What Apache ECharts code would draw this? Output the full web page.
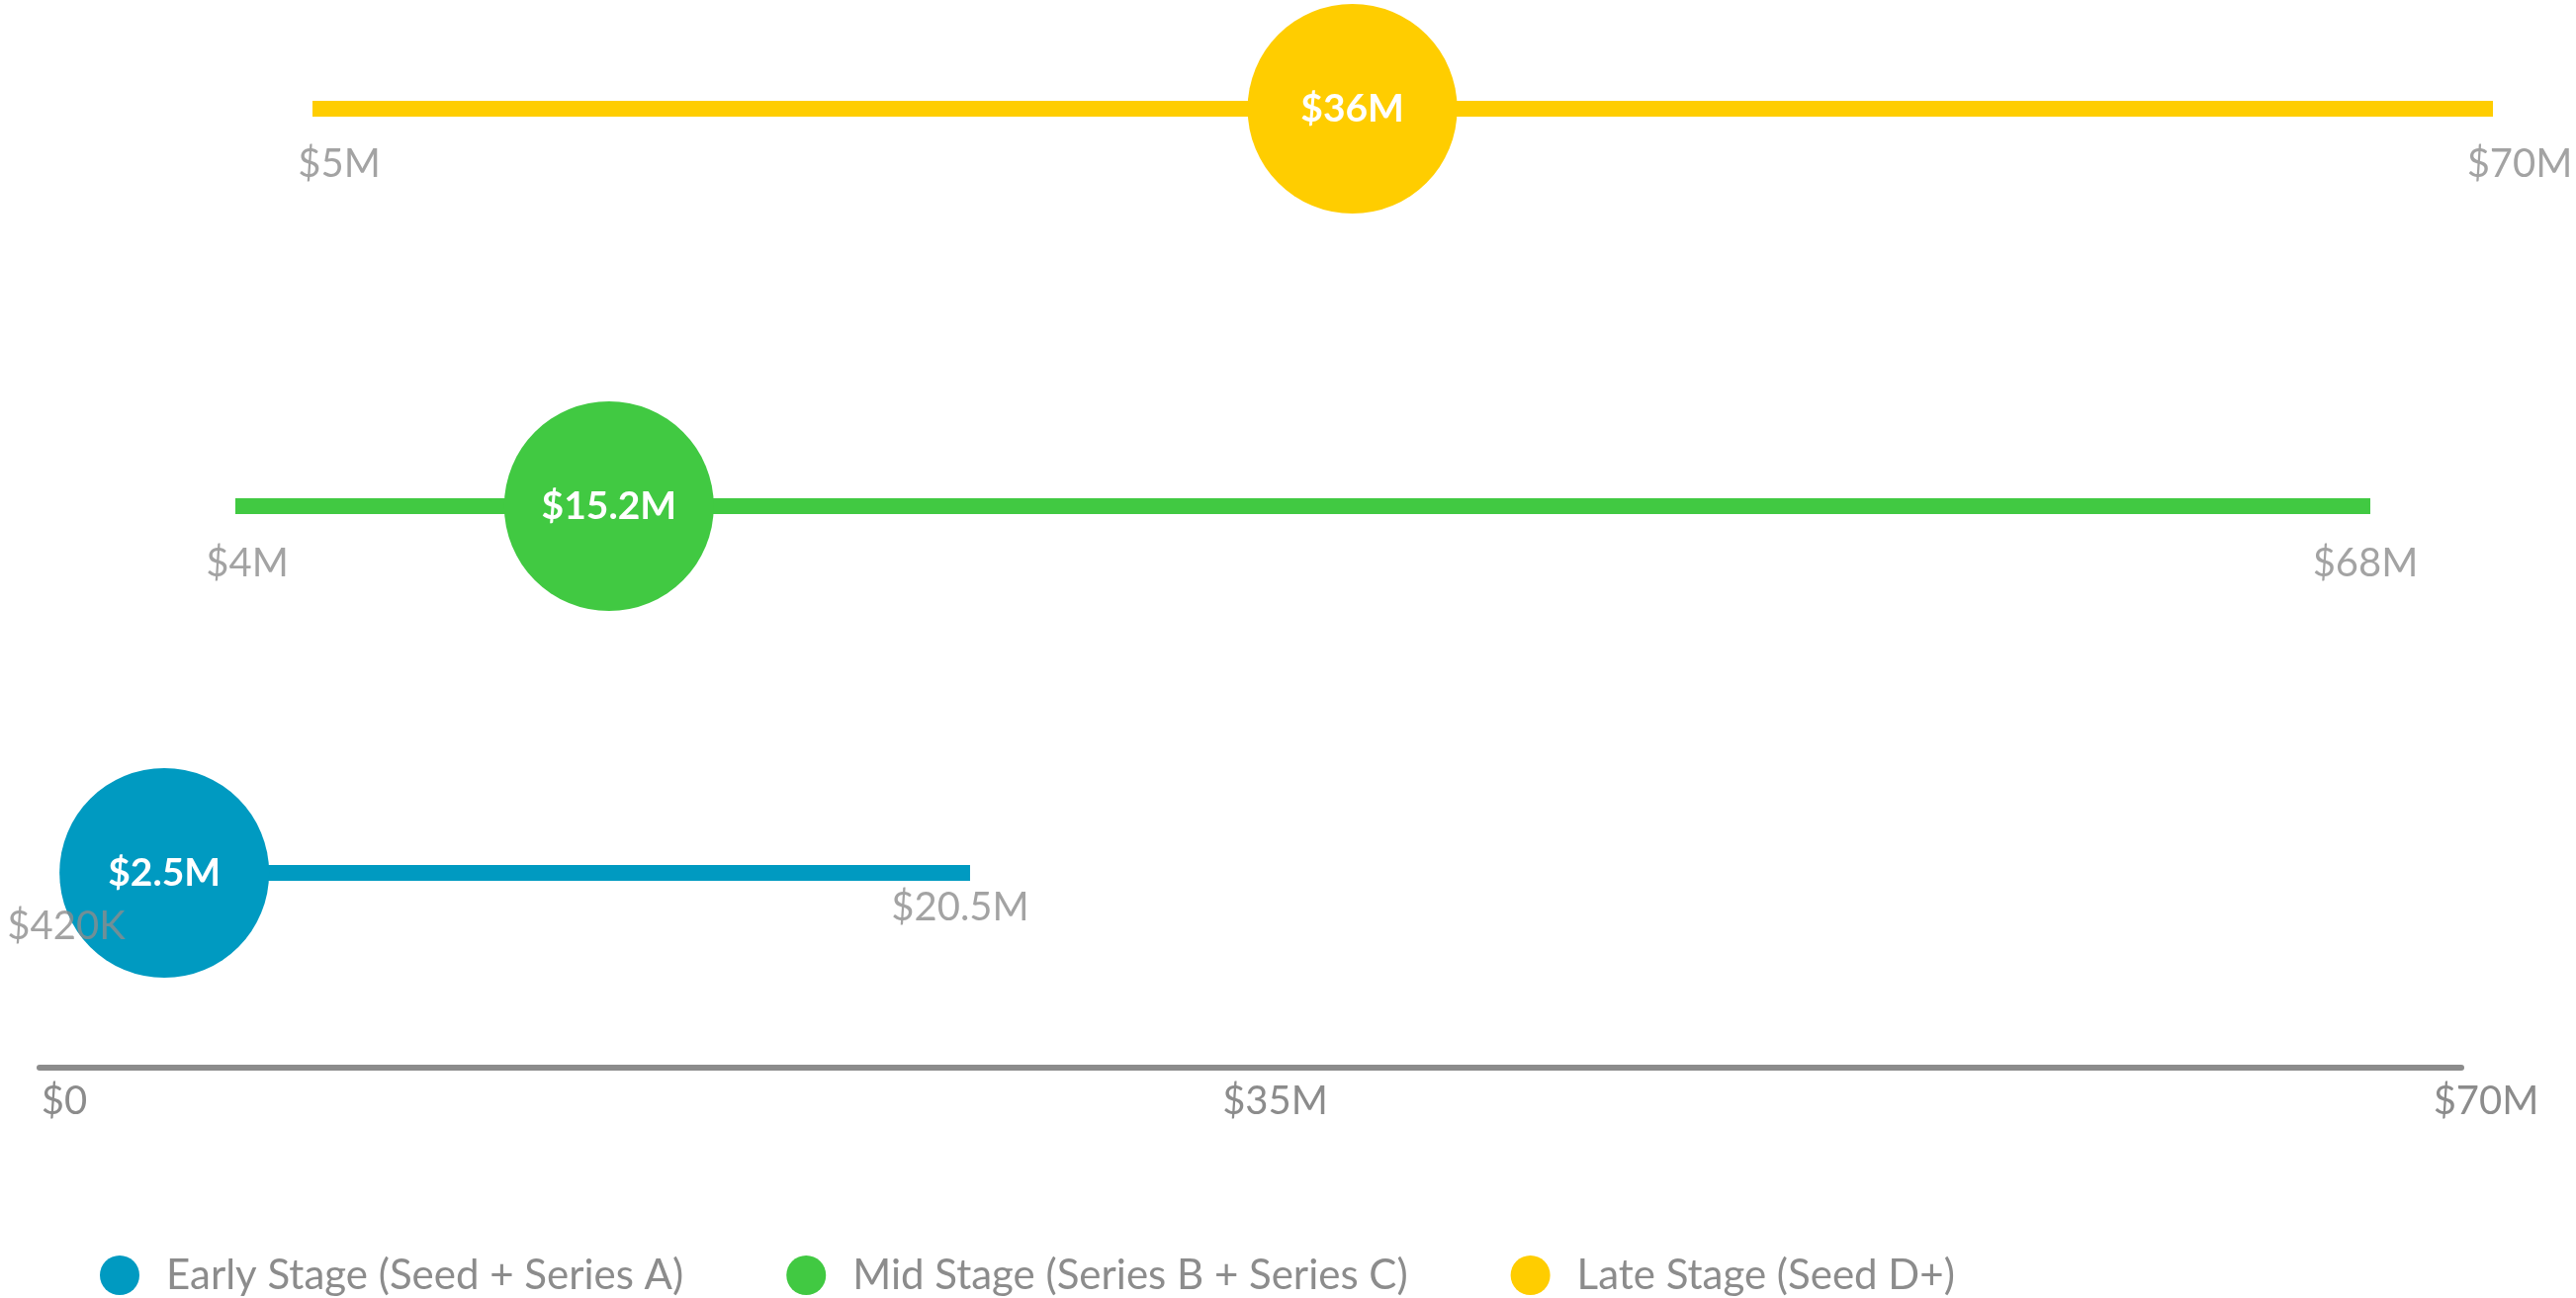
<!DOCTYPE html>
<html><head><meta charset="utf-8">
<script src="https://cdn.jsdelivr.net/npm/echarts@6/dist/echarts.min.js"></script>
<style>html,body{margin:0;padding:0;background:#fff}#c{width:2605px;height:1313px}</style>
</head><body><div id="c"></div>
<script>
// ---- data (values in $ millions) ----
const stages = ['Early Stage (Seed + Series A)', 'Mid Stage (Series B + Series C)', 'Late Stage (Seed D+)'];
const lowValues = [0.42, 4, 5];
const medianValues = [2.5, 15.2, 36];
const highValues = [20.5, 68, 70];
const axisTicks = [0, 35, 70];

// ---- styles / layout ----
const colors = ['#009ac1', '#41c942', '#ffcd00'];
const rowLayout = [
  {left: 72,  width: 909,  yc: 883, loDx: -5, loDist: 34, hiDx: -10, hiDist: 15},
  {left: 238, width: 2159, yc: 512, loDx: 12, loDist: 38, hiDx: -5,  hiDist: 38},
  {left: 316, width: 2205, yc: 110, loDx: 27, loDist: 36, hiDx: 27,  hiDist: 36}
];
const FONT = 'Lato';
const GREY = '#8c8c8c';

function money(v) {
  if (v === 0) return '$0';
  if (v < 1) return '$' + Math.round(v * 1000) + 'K';
  return '$' + v + 'M';
}

const grid = [], xAxis = [], yAxis = [], series = [];
stages.forEach((name, i) => {
  const L = rowLayout[i];
  grid.push({left: L.left, width: L.width, top: L.yc - 50, height: 100});
  xAxis.push({gridIndex: i, type: 'value', min: lowValues[i], max: highValues[i], show: false});
  yAxis.push({gridIndex: i, type: 'value', min: -1, max: 1, show: false});
  series.push({
    type: 'line', name: name, xAxisIndex: i, yAxisIndex: i, z: 2, silent: true,
    symbol: 'none', data: [[lowValues[i], 0], [highValues[i], 0]],
    lineStyle: {color: colors[i], width: 16, cap: 'butt'}, itemStyle: {color: colors[i]}
  });
  series.push({
    type: 'scatter', name: name, xAxisIndex: i, yAxisIndex: i, z: 3, silent: true,
    symbolSize: 212, data: [[medianValues[i], 0]], itemStyle: {color: colors[i], opacity: 1},
    label: {show: true, position: 'inside', formatter: p => money(p.value[0]),
            color: '#fff', fontWeight: 'bold', fontSize: 39, fontFamily: FONT}
  });
  series.push({
    type: 'scatter', name: name + ' range', xAxisIndex: i, yAxisIndex: i, z: 4, silent: true,
    symbolSize: 1, itemStyle: {color: 'rgba(0,0,0,0)'},
    data: [
      {value: [lowValues[i], 0], label: {offset: [L.loDx, 0], distance: L.loDist}},
      {value: [highValues[i], 0], label: {offset: [L.hiDx, 0], distance: L.hiDist}}
    ],
    label: {show: true, position: 'bottom', formatter: p => money(p.value[0]),
            color: GREY, fontSize: 40, fontFamily: FONT}
  });
});

// bottom reference axis
grid.push({left: 40, width: 2449, top: 980, height: 100});
xAxis.push({
  gridIndex: 3, type: 'value', min: axisTicks[0], max: axisTicks[axisTicks.length - 1],
  interval: axisTicks[1] - axisTicks[0],
  axisLine: {show: true, lineStyle: {color: GREY, width: 6}},
  axisTick: {show: false}, splitLine: {show: false},
  axisLabel: {color: GREY, fontSize: 40, fontFamily: FONT, margin: 14, padding: [0, 0, 0, 50],
              formatter: v => money(v)}
});
yAxis.push({gridIndex: 3, type: 'value', min: 0, max: 1, show: false});

const chart = echarts.init(document.getElementById('c'), null, {renderer: 'canvas'});
chart.setOption({
  animation: false,
  backgroundColor: '#fff',
  grid, xAxis, yAxis, series,
  legend: {
    left: 96, top: 1264, orient: 'horizontal', icon: 'circle',
    itemWidth: 40, itemHeight: 40, itemGap: 104,
    data: stages.map((s, i) => ({name: s, itemStyle: {color: colors[i]}})),
    textStyle: {fontSize: 42, color: GREY, fontFamily: FONT, padding: [0, 0, 0, 22]}
  }
});
</script>
</body></html>
